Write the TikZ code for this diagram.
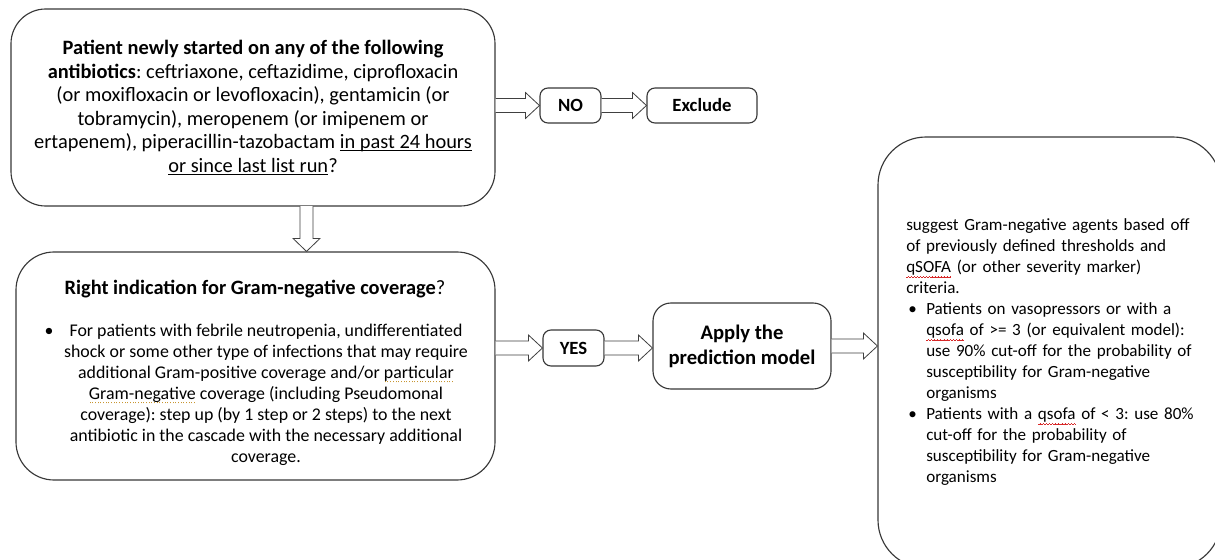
\documentclass[tikz,border=0pt]{standalone}
\usepackage{fontspec}
\setmainfont{Carlito}
\usetikzlibrary{calc}
\frenchspacing
\definecolor{squigred}{RGB}{215,40,40}
\definecolor{squigyel}{RGB}{200,150,50}
\newsavebox\ulbox
\newcommand\uln[1]{\leavevmode\sbox\ulbox{#1}\rlap{\rule[-1.7pt]{\wd\ulbox}{0.6pt}}\usebox\ulbox}
\newcommand\redwave[1]{\leavevmode\sbox\ulbox{#1}\rlap{\textcolor{squigred}{\hbox to \wd\ulbox{\xleaders\hbox{\rule[-3.6pt]{0.6pt}{0.4pt}\rule[-3.2pt]{0.5pt}{0.4pt}\rule[-2.8pt]{0.6pt}{0.4pt}\rule[-3.2pt]{0.5pt}{0.4pt}}\hfill}}}\usebox\ulbox}
\newcommand\yeldots[1]{\leavevmode\sbox\ulbox{#1}\rlap{\textcolor{squigyel}{\hbox to \wd\ulbox{\xleaders\hbox to 2pt{\hss\rule[-2.8pt]{0.75pt}{0.75pt}\hss}\hfill}}}\usebox\ulbox}
\newcommand\bul{\makebox[15pt][l]{\hspace{1.5pt}•}}
\newcommand\ind{\hspace*{15pt}}
\tikzset{
  box/.style={draw=black!78, line width=0.85pt, inner sep=0pt, fill=white},
  arr/.style={draw=black!75, line width=0.6pt, fill=white, line join=miter},
  big/.style={font=\fontsize{15.3}{17.6}\selectfont},
  small/.style={font=\fontsize{13.4}{15.75}\selectfont},
  rsmall/.style={font=\fontsize{12.8}{15.75}\selectfont},
  lbl/.style={font=\fontsize{14}{17}\selectfont\bfseries},
}
\newcommand\harrow[2]{\draw[arr] let \p1=(#1), \p2=(#2) in
  (\x1,\y1+5.25pt) -- (\x2-10.5pt,\y1+5.25pt) -- (\x2-10.5pt,\y1+9.75pt) -- (\x2,\y1)
  -- (\x2-10.5pt,\y1-9.75pt) -- (\x2-10.5pt,\y1-5.25pt) -- (\x1,\y1-5.25pt);}
\newcommand\varrow[2]{\draw[arr] let \p1=(#1), \p2=(#2) in
  (\x1+4.9pt,\y1) -- (\x1+4.9pt,\y2+9.75pt) -- (\x1+10.1pt,\y2+9.75pt) -- (\x1,\y2)
  -- (\x1-10.1pt,\y2+9.75pt) -- (\x1-4.9pt,\y2+9.75pt) -- (\x1-4.9pt,\y1);}
\begin{document}
\begin{tikzpicture}[x=0.75pt, y=-0.75pt]
\useasboundingbox (0,0) rectangle (1215,560);
\clip (0,0) rectangle (1215,560);
\fill[white] (0,0) rectangle (1215,560);

% top question
\node[box, big, align=center, minimum width=363pt, minimum height=147.75pt, rounded corners=26pt] (q1) at (253,107.5)
{{\bfseries Patient newly started on any of the following}\\
{\bfseries antibiotics}: ceftriaxone, ceftazidime, ciprofloxacin\\
(or moxifloxacin or levofloxacin), gentamicin (or\\
tobramycin), meropenem (or imipenem or\\
ertapenem), piperacillin-tazobactam \uln{in past 24 hours}\\
\uln{or since last list run}?};

% NO / Exclude
\node[box, lbl, minimum width=45.75pt, minimum height=26.25pt, rounded corners=6pt] (no) at (570.5,105.5) {NO};
\node[box, lbl, minimum width=82.5pt, minimum height=26.25pt, rounded corners=6pt] (ex) at (702,105.5) {Exclude};

% second question
\node[box, minimum width=359.25pt, minimum height=171pt, rounded corners=28.5pt] (q2) at (255.5,366) {};
\node[big, inner sep=0pt] (q2t) at (255,289) {{\bfseries Right indication for Gram-negative coverage}?};
\node[small, align=center, inner sep=0pt] (q2b) at (266,395)
{\llap{•\hspace{12pt}}For patients with febrile neutropenia, undifferentiated\\
shock or some other type of infections that may require\\
additional Gram-positive coverage and/or \yeldots{particular}\\
\yeldots{Gram-negative} coverage (including Pseudomonal\\
coverage): step up (by 1 step or 2 steps) to the next\\
antibiotic in the cascade with the necessary additional\\
coverage.};

% YES / Apply
\node[box, lbl, minimum width=45.75pt, minimum height=27pt, rounded corners=6pt] (yes) at (573.5,348) {YES};
\node[box, align=center, font=\fontsize{15.5}{18.75}\selectfont\bfseries, minimum width=133.5pt, minimum height=64.5pt, rounded corners=13.5pt] (apply) at (742,346) {Apply the\\prediction model};

% result box
\node[box, minimum width=257.25pt, minimum height=323.25pt, rounded corners=36pt] (res) at (1049.5,352.5) {};
\node[rsmall, anchor=west, align=left, text width=240pt, inner sep=0pt] (rest) at (906,352.5)
{suggest Gram-negative agents based off\\
of previously defined thresholds and\\
\redwave{qSOFA} (or other severity marker)\\
criteria.\\
\bul Patients on vasopressors or with a\\
\ind \redwave{qsofa} of >= 3 (or equivalent model):\\
\ind use 90\% cut-off for the probability of\\
\ind susceptibility for Gram-negative\\
\ind organisms\\
\bul Patients with a \redwave{qsofa} of < 3: use 80\%\\
\ind cut-off for the probability of\\
\ind susceptibility for Gram-negative\\
\ind organisms};

% connectors
\harrow{q1.east |- no.west}{no.west}
\harrow{no.east}{ex.west}
\coordinate (d0) at (306.5,206);
\varrow{d0}{d0 |- q2.north}
\harrow{q2.east |- yes.west}{yes.west}
\harrow{yes.east}{apply.west}
\harrow{apply.east}{apply.east -| res.west}
\end{tikzpicture}
\end{document}
